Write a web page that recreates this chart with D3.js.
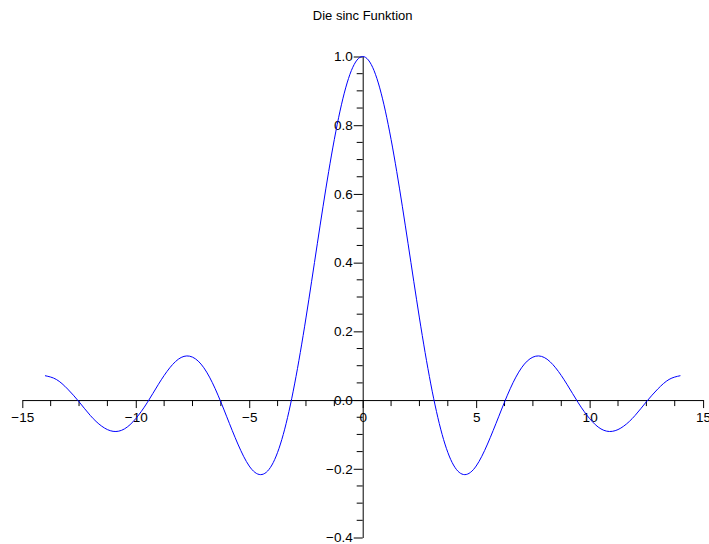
<!DOCTYPE html>
<html>
<head>
<meta charset="utf-8">
<script src="https://cdn.jsdelivr.net/npm/d3@7"></script>
<style>
  html, body { margin: 0; padding: 0; background: #fff; }
  svg { display: block; font-family: "Liberation Sans", Arial, sans-serif; }
  .axis path, .axis line { stroke: #000; }
  .axis text { fill: #000; font-size: 13.5px; }
</style>
</head>
<body>
<svg id="chart" width="709" height="544"></svg>
<script>
// sin(x)/x sampled every 0.5 from -14 to 14
const xValues = [
  -14, -13.5, -13, -12.5, -12, -11.5, -11, -10.5, -10, -9.5, -9, -8.5, -8, -7.5,
  -7, -6.5, -6, -5.5, -5, -4.5, -4, -3.5, -3, -2.5, -2, -1.5, -1, -0.5,
  0,
  0.5, 1, 1.5, 2, 2.5, 3, 3.5, 4, 4.5, 5, 5.5, 6, 6.5, 7,
  7.5, 8, 8.5, 9, 9.5, 10, 10.5, 11, 11.5, 12, 12.5, 13, 13.5, 14
];
const yValues = [
  0.071, 0.060, 0.032, -0.005, -0.045, -0.076, -0.091, -0.084, -0.054, -0.008, 0.046, 0.094, 0.124, 0.125,
  0.094, 0.033, -0.047, -0.128, -0.192, -0.217, -0.189, -0.100, 0.047, 0.239, 0.455, 0.665, 0.841, 0.959,
  1.000,
  0.959, 0.841, 0.665, 0.455, 0.239, 0.047, -0.100, -0.189, -0.217, -0.192, -0.128, -0.047, 0.033, 0.094,
  0.125, 0.124, 0.094, 0.046, -0.008, -0.054, -0.084, -0.091, -0.076, -0.045, -0.005, 0.032, 0.060, 0.071
];
const xMajorTicks = [-15, -10, -5, 0, 5, 10, 15];
const yMajorTicks = [-0.4, -0.2, 0.0, 0.2, 0.4, 0.6, 0.8, 1.0];
const title = "Die sinc Funktion";

const svg = d3.select("#chart");

const x = d3.scaleLinear().domain([-15, 15]).range([22.3, 703.1]);
const y = d3.scaleLinear().domain([-0.4, 1.0]).range([537.5, 56.5]);

const xMinor = d3.range(-15, 15.001, 1.25).filter(v => !xMajorTicks.some(t => Math.abs(t - v) < 1e-9));
const yMinor = d3.range(-0.4, 1.0001, 0.05).filter(v => !yMajorTicks.some(t => Math.abs(t - v) < 1e-9));

// Horizontal axis through y = 0
const gx = svg.append("g").attr("class", "axis").attr("transform", `translate(0,${y(0)})`);
gx.call(d3.axisBottom(x).tickValues(xMajorTicks).tickSize(8).tickPadding(4)
  .tickFormat(d3.format("d")).tickSizeOuter(0));
gx.append("g").selectAll("line").data(xMinor).join("line")
  .attr("x1", d => x(d)).attr("x2", d => x(d)).attr("y1", 0).attr("y2", 6)
  .attr("stroke", "#000");

// Vertical axis through x = 0
const gy = svg.append("g").attr("class", "axis").attr("transform", `translate(${x(0)},0)`);
gy.call(d3.axisLeft(y).tickValues(yMajorTicks).tickSize(9).tickPadding(1)
  .tickFormat(d3.format(".1f")).tickSizeOuter(0));
gy.append("g").selectAll("line").data(yMinor).join("line")
  .attr("y1", d => y(d)).attr("y2", d => y(d)).attr("x1", 0).attr("x2", -6)
  .attr("stroke", "#000");

// Curve
const line = d3.line()
  .x((d, i) => x(xValues[i]))
  .y(d => y(d))
  .curve(d3.curveNatural);
svg.append("path")
  .datum(yValues)
  .attr("d", line)
  .attr("fill", "none")
  .attr("stroke", "#0000ff")
  .attr("stroke-width", 1);

// Title
svg.append("text")
  .attr("x", x(0))
  .attr("y", 20)
  .attr("text-anchor", "middle")
  .attr("font-size", "13px")
  .attr("fill", "#000")
  .text(title);
</script>
</body>
</html>
